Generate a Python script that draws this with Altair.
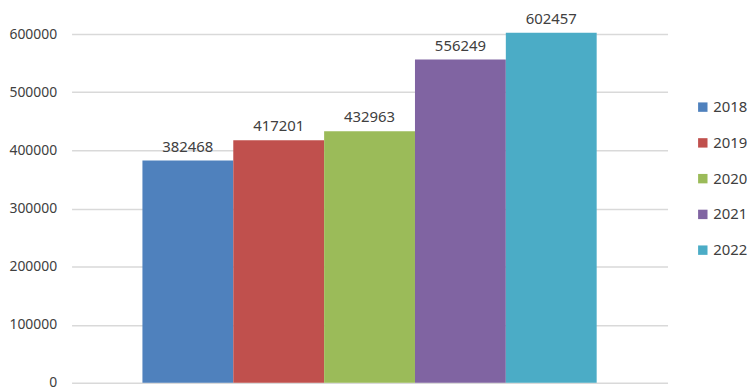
import altair as alt
import pandas as pd

years = ["2018", "2019", "2020", "2021", "2022"]
values = [382468, 417201, 432963, 556249, 602457]
colors = ["#4F81BD", "#C0504D", "#9BBB59", "#8064A2", "#4BACC6"]
y_ticks = [0, 100000, 200000, 300000, 400000, 500000, 600000]

df = pd.DataFrame({"year": years, "value": values})

FONT = "Noto Sans"
TXT = "#404040"

x = alt.X("year:N", axis=None, sort=years,
          scale=alt.Scale(paddingInner=0, paddingOuter=0.78))
y = alt.Y("value:Q", title=None,
          scale=alt.Scale(domain=[0, 600000], nice=False, zero=True),
          axis=alt.Axis(values=y_ticks, format="d", domain=False, ticks=False,
                        labelPadding=15, labelFontSize=14, labelFont=FONT,
                        labelColor=TXT, gridColor="#D9D9D9", gridWidth=1.5))

bars = alt.Chart(df).mark_bar(strokeWidth=0).encode(
    x=x, y=y,
    color=alt.Color("year:N", sort=years,
                    scale=alt.Scale(domain=years, range=colors),
                    legend=alt.Legend(title=None, orient="none", legendX=628, legendY=66,
                                      symbolType="square", symbolSize=90,
                                      symbolStrokeWidth=0, labelFontSize=15,
                                      labelFont=FONT, labelColor=TXT,
                                      rowPadding=20, labelOffset=3)),
)

labels = alt.Chart(df).mark_text(baseline="alphabetic", dy=-9, fontSize=15,
                                 font=FONT, color=TXT).encode(
    x=x, y=y, text=alt.Text("value:Q", format="d")
)

chart = (bars + labels).properties(
    width=600, height=351,
    autosize=alt.AutoSizeParams(type="none"),
    padding={"left": 64, "top": 25, "right": 80, "bottom": 7},
).configure(background="white").configure_view(stroke=None, strokeWidth=0)

chart.save("out.html", embed_options={"renderer": "svg", "actions": False})
